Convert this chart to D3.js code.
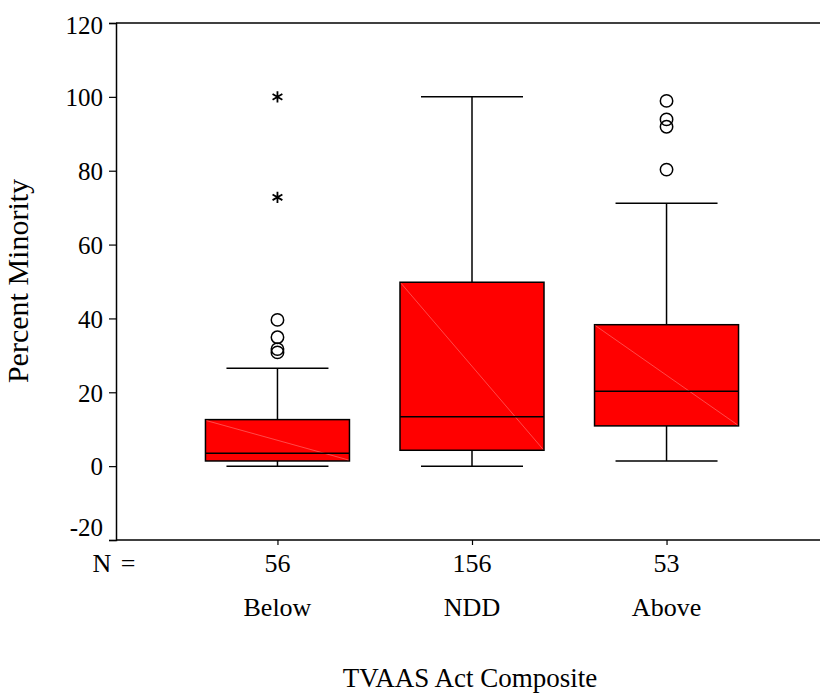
<!DOCTYPE html>
<html>
<head>
<meta charset="utf-8">
<script src="https://cdn.jsdelivr.net/npm/d3@7"></script>
<style>
  body { margin: 0; background: #fff; }
  text { font-family: "Liberation Serif", "Times New Roman", serif; fill: #000; }
</style>
</head>
<body>
<div id="chart"></div>
<script>
// Data
var groups = ["Below", "NDD", "Above"];
var counts = [56, 156, 53];
var whiskerLow = [0, 0, 1.4];
var q1 = [1.4, 4.3, 10.9];
var medians = [3.5, 13.4, 20.3];
var q3 = [12.6, 49.8, 38.3];
var whiskerHigh = [26.5, 100, 71.2];
var outliers = [[39.6, 34.9, 31.7, 30.8], [], [98.9, 93.9, 91.9, 80.3]];
var extremes = [[100, 72.8], [], []];
var yTicks = [-20, 0, 20, 40, 60, 80, 100, 120];

var fullWidth = 820;
var fullHeight = 694;
var margin = { top: 23, left: 116, right: 0, bottom: 155 };
var fontSize = "26px";

var svg = d3.select("#chart").append("svg")
    .attr("width", fullWidth)
    .attr("height", fullHeight);

var yScale = d3.scaleLinear()
    .domain([-20, 120])
    .range([fullHeight - margin.bottom + 1, margin.top]);

var xScale = d3.scalePoint()
    .domain(groups)
    .range([margin.left, 828])
    .padding(0.83);

var boxWidth = 144;
var capWidth = 102;

// y axis
var yAxis = d3.axisLeft(yScale)
    .tickValues(yTicks)
    .tickSize(7)
    .tickPadding(6)
    .tickFormat(function(d) { return String(d); });

var gy = svg.append("g")
    .attr("transform", "translate(" + margin.left + ",0)")
    .call(yAxis);
gy.select(".domain").attr("stroke-width", 1.5);
gy.selectAll(".tick line").attr("stroke-width", 1.2);
gy.selectAll(".tick text")
    .style("font-size", "25px")
    .attr("dy", "0.35em")
    .attr("y", function(d) { return d === -20 ? -13 : (d === 120 ? 2 : 0); });

// top frame line
svg.append("line")
    .attr("x1", margin.left).attr("x2", fullWidth)
    .attr("y1", yScale(120)).attr("y2", yScale(120))
    .attr("stroke", "#000").attr("stroke-width", 1.5);

// x axis at the bottom
var xAxis = d3.axisBottom(xScale)
    .tickSize(5)
    .tickFormat("");
var gx = svg.append("g")
    .attr("transform", "translate(0," + yScale(-20) + ")")
    .call(xAxis);
gx.select(".domain").attr("d", "M" + margin.left + ",0H" + fullWidth).attr("stroke-width", 1.5);
gx.selectAll(".tick line").attr("stroke-width", 1.2);

// N = and counts
svg.append("text")
    .attr("x", 114).attr("y", 572)
    .attr("text-anchor", "middle")
    .style("font-size", fontSize)
    .style("word-spacing", "3px")
    .text("N =");

svg.selectAll(".count")
    .data(groups)
    .enter()
    .append("text")
        .attr("class", "count")
        .attr("x", function(d) { return xScale(d); })
        .attr("y", 572)
        .attr("text-anchor", "middle")
        .style("font-size", fontSize)
        .text(function(d, i) { return counts[i]; });

svg.selectAll(".group")
    .data(groups)
    .enter()
    .append("text")
        .attr("class", "group")
        .attr("x", function(d) { return xScale(d); })
        .attr("y", 616)
        .attr("text-anchor", "middle")
        .style("font-size", fontSize)
        .text(function(d) { return d; });

// axis titles
svg.append("text")
    .attr("x", 470).attr("y", 687)
    .attr("text-anchor", "middle")
    .style("font-size", "27px")
    .text("TVAAS Act Composite");

svg.append("text")
    .attr("transform", "translate(28," + 281 + ") rotate(-90)")
    .attr("text-anchor", "middle")
    .style("font-size", "30px")
    .text("Percent Minority");

// boxes
var box = svg.selectAll(".box")
    .data(groups)
    .enter()
    .append("g")
        .attr("class", "box");

// whiskers
box.append("line")
    .attr("x1", function(d) { return xScale(d); })
    .attr("x2", function(d) { return xScale(d); })
    .attr("y1", function(d, i) { return yScale(whiskerHigh[i]); })
    .attr("y2", function(d, i) { return yScale(q3[i]); })
    .attr("stroke", "#000").attr("stroke-width", 1.5);
box.append("line")
    .attr("x1", function(d) { return xScale(d); })
    .attr("x2", function(d) { return xScale(d); })
    .attr("y1", function(d, i) { return yScale(q1[i]); })
    .attr("y2", function(d, i) { return yScale(whiskerLow[i]); })
    .attr("stroke", "#000").attr("stroke-width", 1.5);
box.append("line")
    .attr("x1", function(d) { return xScale(d) - capWidth / 2; })
    .attr("x2", function(d) { return xScale(d) + capWidth / 2; })
    .attr("y1", function(d, i) { return yScale(whiskerHigh[i]); })
    .attr("y2", function(d, i) { return yScale(whiskerHigh[i]); })
    .attr("stroke", "#000").attr("stroke-width", 1.5);
box.append("line")
    .attr("x1", function(d) { return xScale(d) - capWidth / 2; })
    .attr("x2", function(d) { return xScale(d) + capWidth / 2; })
    .attr("y1", function(d, i) { return yScale(whiskerLow[i]); })
    .attr("y2", function(d, i) { return yScale(whiskerLow[i]); })
    .attr("stroke", "#000").attr("stroke-width", 1.5);

box.append("rect")
    .attr("x", function(d) { return xScale(d) - boxWidth / 2; })
    .attr("width", boxWidth)
    .attr("y", function(d, i) { return yScale(q3[i]); })
    .attr("height", function(d, i) { return yScale(q1[i]) - yScale(q3[i]); })
    .attr("fill", "#ff0000")
    .attr("stroke", "#000")
    .attr("stroke-width", 1.5);

// faint diagonal inside the box
box.append("line")
    .attr("x1", function(d) { return xScale(d) - boxWidth / 2 + 1; })
    .attr("x2", function(d) { return xScale(d) + boxWidth / 2 - 1; })
    .attr("y1", function(d, i) { return yScale(q3[i]) + 1; })
    .attr("y2", function(d, i) { return yScale(q1[i]) - 1; })
    .attr("stroke", "#ff7a7a")
    .attr("stroke-width", 0.6);

box.append("line")
    .attr("x1", function(d) { return xScale(d) - boxWidth / 2; })
    .attr("x2", function(d) { return xScale(d) + boxWidth / 2; })
    .attr("y1", function(d, i) { return yScale(medians[i]); })
    .attr("y2", function(d, i) { return yScale(medians[i]); })
    .attr("stroke", "#000").attr("stroke-width", 1.5);

// outliers (circles) and extremes (asterisks)
groups.forEach(function(g, i) {
    svg.selectAll(".out" + i)
        .data(outliers[i])
        .enter()
        .append("circle")
            .attr("cx", xScale(g))
            .attr("cy", function(d) { return yScale(d); })
            .attr("r", 6.2)
            .attr("fill", "none")
            .attr("stroke", "#000")
            .attr("stroke-width", 1.5);

    svg.selectAll(".ext" + i)
        .data(extremes[i])
        .enter()
        .append("path")
            .attr("d", d3.symbol(d3.symbolAsterisk, 90))
            .attr("transform", function(d) { return "translate(" + xScale(g) + "," + yScale(d) + ")"; })
            .attr("fill", "none")
            .attr("stroke", "#000")
            .attr("stroke-width", 1.8);
});
</script>
</body>
</html>
